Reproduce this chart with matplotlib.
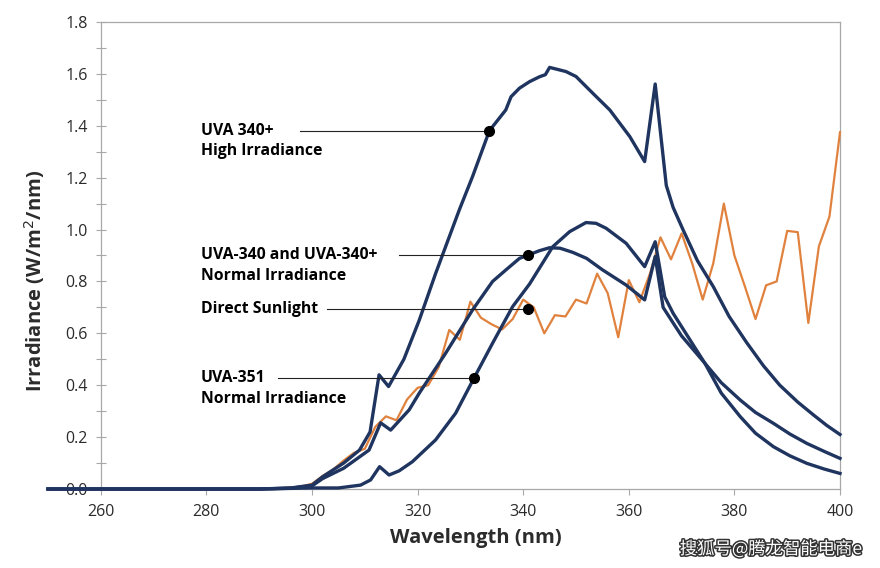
import numpy as np
import matplotlib.pyplot as plt
from matplotlib.ticker import MultipleLocator
import matplotlib.patheffects as pe

# UVA-340+ high irradiance
hi_x = [250, 290, 296, 300, 302, 306, 309, 311, 312.7, 314.5, 317.4, 320.3, 323.4,
        327.9, 330.4, 333.6, 336.7, 337.7, 339.3, 341.2, 343.1, 344.2, 345, 348.1,
        350, 353.2, 356.4, 360.2, 363, 365, 367.1, 368.4, 370.3, 373, 376, 379,
        382.3, 385.5, 388.6, 392, 395, 397.5, 400]
hi_y = [0, 0, 0.004, 0.015, 0.047, 0.10, 0.15, 0.22, 0.44, 0.395, 0.50, 0.65, 0.83,
        1.076, 1.204, 1.381, 1.461, 1.512, 1.545, 1.570, 1.589, 1.597, 1.625, 1.609,
        1.59, 1.525, 1.461, 1.358, 1.262, 1.561, 1.17, 1.085, 0.998, 0.88, 0.78, 0.665,
        0.565, 0.475, 0.40, 0.335, 0.285, 0.245, 0.21]

# UVA-340 / UVA-340+ normal irradiance
n340_x = [250, 290, 296, 300, 302, 306, 310.8, 313, 314.9, 318.4, 320.3, 325.3, 330.4,
          334.2, 336.7, 339.3, 341, 343, 345, 347, 349.4, 352, 355, 359.5, 363, 365,
          366.5, 368.4, 370, 374.4, 377.5, 381.1, 384, 387.4, 390.5, 393.7, 397, 400]
n340_y = [0, 0, 0.003, 0.012, 0.04, 0.08, 0.15, 0.255, 0.227, 0.305, 0.369, 0.523, 0.69,
          0.80, 0.844, 0.889, 0.902, 0.918, 0.93, 0.928, 0.912, 0.889, 0.845, 0.786, 0.729, 0.896,
          0.70, 0.64, 0.59, 0.485, 0.41, 0.343, 0.295, 0.253, 0.212, 0.176, 0.145, 0.118]

# UVA-351 normal irradiance
n351_x = [250, 290, 300, 305, 309.2, 311.1, 312.8, 314.6, 316.5, 319, 323.4, 327.2,
          330.7, 334.2, 338, 341.2, 345.6, 348.8, 351.9, 353.8, 355.7, 359.5, 363, 365,
          366.8, 368.4, 372.8, 374.4, 377.5, 381.1, 384, 387.4, 390.5, 393.7, 397, 400]
n351_y = [0, 0, 0.004, 0.004, 0.015, 0.035, 0.086, 0.054, 0.07, 0.105, 0.189, 0.292,
          0.428, 0.562, 0.703, 0.79, 0.934, 0.992, 1.027, 1.024, 1.005, 0.947, 0.857, 0.953,
          0.741, 0.677, 0.536, 0.485, 0.37, 0.279, 0.215, 0.163, 0.128, 0.099, 0.077, 0.06]

# Direct sunlight
sun_x = [250, 290, 296, 298, 300, 302, 304, 306, 308, 310, 312, 314, 316, 318, 320, 322,
         324, 326, 328, 330, 332, 334, 336, 338, 340, 342, 344, 346, 348, 350, 352, 354,
         356, 358, 360, 362, 364, 366, 368, 370, 372, 374, 376, 378, 380, 382, 384, 386,
         388, 390, 392, 394, 396, 398, 400]
sun_y = [0, 0, 0.005, 0.01, 0.02, 0.05, 0.075, 0.11, 0.14, 0.155, 0.24, 0.28, 0.265, 0.345,
         0.39, 0.40, 0.47, 0.613, 0.575, 0.722, 0.66, 0.635, 0.615, 0.655, 0.73, 0.70, 0.60,
         0.67, 0.665, 0.73, 0.715, 0.83, 0.755, 0.585, 0.805, 0.72, 0.83, 0.97, 0.885, 0.985,
         0.87, 0.73, 0.87, 1.10, 0.90, 0.78, 0.655, 0.785, 0.80, 0.995, 0.99, 0.64, 0.935,
         1.05, 1.375]

labels = [["UVA 340+", "High Irradiance"],
          ["UVA-340 and UVA-340+", "Normal Irradiance"],
          ["Direct Sunlight"],
          ["UVA-351", "Normal Irradiance"]]
dot_x = [333.6, 341.0, 341.0, 330.7]
dot_y = [1.381, 0.902, 0.694, 0.428]
line_start = [297.7, 316.5, 302.8, 293.5]

navy = '#1f3560'
orange = '#e0823e'
grey = '#a8a8a8'
txt = '#2b2b2b'

plt.rcParams['font.family'] = ['Open Sans', 'DejaVu Sans']

fig = plt.figure(figsize=(8.8, 5.68), dpi=100)
ax = fig.add_axes([48 / 880, 1 - 489 / 568, 792 / 880, 467 / 568])

ax.plot(sun_x, sun_y, color=orange, lw=1.6, zorder=3, clip_on=False)
for xs, ys in [(n351_x, n351_y), (n340_x, n340_y), (hi_x, hi_y)]:
    ax.plot(xs, ys, color=navy, lw=2.4, zorder=4, clip_on=False,
            solid_joinstyle='round')

for lab, dx, dy, x0 in zip(labels, dot_x, dot_y, line_start):
    ax.plot([x0, dx], [dy, dy], color='#222222', lw=0.8, zorder=5)
    ax.plot(dx, dy, 'o', color='black', ms=7, zorder=6)
    for i, s in enumerate(lab):
        ax.text(279.0, dy - i * 0.080, s, fontsize=11.3, fontweight='bold',
                color='black', va='center', ha='left')

ax.set_xlim(250, 400)
ax.set_ylim(0, 1.8)
ax.set_xticks(np.arange(260, 401, 20))
ax.yaxis.set_major_locator(MultipleLocator(0.2))
ax.yaxis.set_minor_locator(MultipleLocator(0.1))
ax.yaxis.set_major_formatter(lambda v, p: f'{v:.1f}')

ax.spines['left'].set_position(('data', 260))
for side in ['left', 'right', 'top', 'bottom']:
    ax.spines[side].set_color(grey)
    ax.spines[side].set_linewidth(0.9)
ax.spines['top'].set_bounds(260, 400)
ax.spines['bottom'].set_bounds(260, 400)

ax.tick_params(axis='y', which='both', direction='inout', length=7, width=0.8,
               color=grey, labelsize=11.5, labelcolor=txt, pad=6)
ax.tick_params(axis='x', direction='out', length=4, width=0.8, color=grey,
               labelsize=11.5, labelcolor=txt, pad=7)

ax.set_xlabel('Wavelength (nm)', fontsize=14.5, fontweight='bold', color=txt)
ax.xaxis.set_label_coords(476 / 880, 1 - 538 / 568, transform=fig.transFigure)
ax.xaxis.label.set_va('center')
ax.set_ylabel('Irradiance (W/m$^2$/nm)', fontsize=14.5, fontweight='bold', color=txt)
ax.yaxis.set_label_coords(35 / 880, 1 - 281 / 568, transform=fig.transFigure)
ax.yaxis.label.set_va('center')

fig.text(771 / 880, 1 - 549 / 568, '搜狐号@腾龙智能电商e', fontsize=12.5,
         family=['Noto Sans CJK SC', 'DejaVu Sans'], color='white',
         ha='center', va='center',
         path_effects=[pe.withStroke(linewidth=2.2, foreground='#333333')])

fig.savefig('out.png', dpi=100)
